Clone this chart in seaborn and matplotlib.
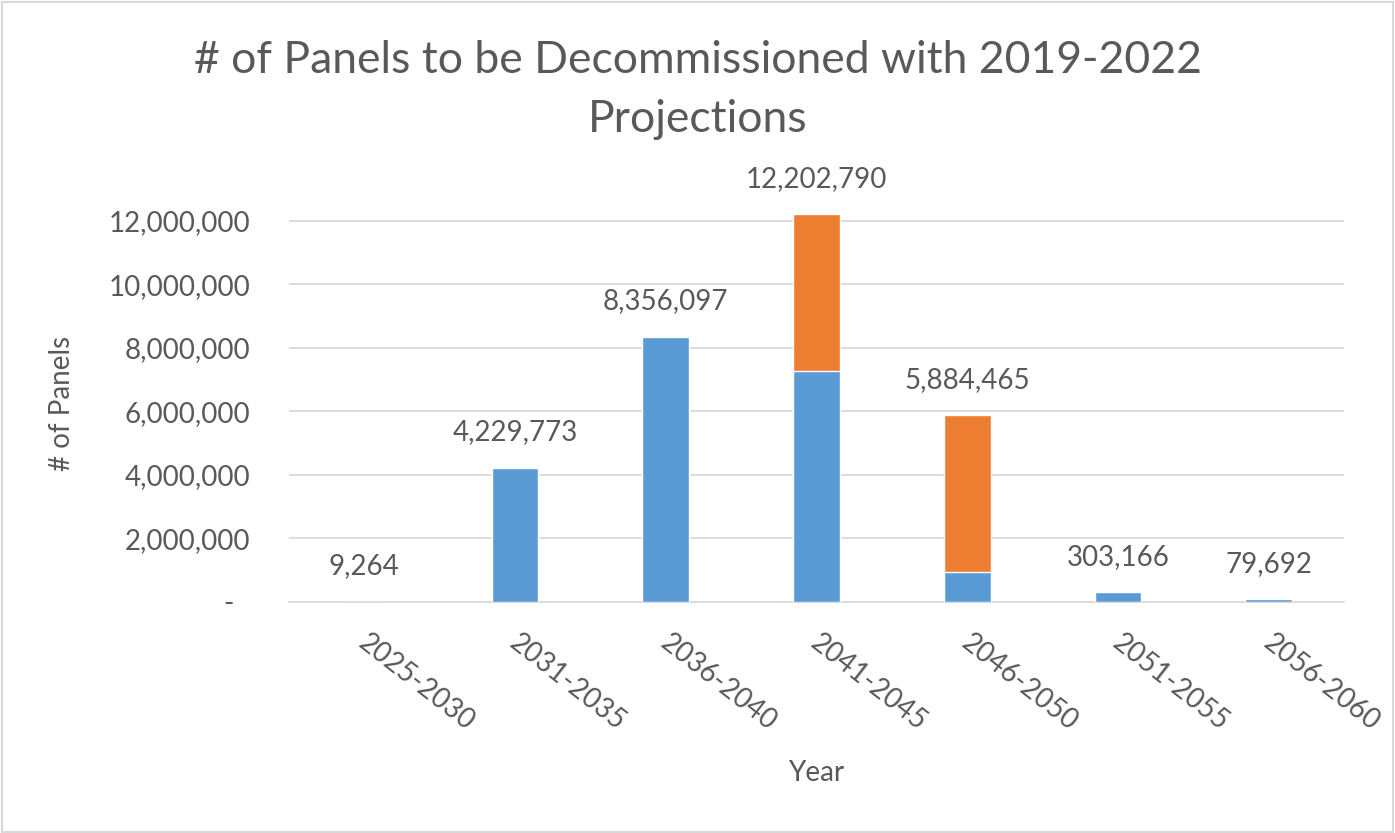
import matplotlib
matplotlib.use("Agg")
import matplotlib.pyplot as plt
import matplotlib.transforms as mtransforms
from matplotlib.patches import Rectangle
import seaborn as sns
import pandas as pd

# Decommissioning periods and panel counts per projection set
periods = ["2025-2030", "2031-2035", "2036-2040", "2041-2045",
           "2046-2050", "2051-2055", "2056-2060"]
base_panels = [9264, 4229773, 8356097, 7270000, 955000, 303166, 79692]
added_panels = [0, 0, 0, 4932790, 4929465, 0, 0]
y_ticks = [0, 2_000_000, 4_000_000, 6_000_000, 8_000_000, 10_000_000, 12_000_000]

title_text = "# of Panels to be Decommissioned with 2019-2022\nProjections"
x_label = "Year"
y_label = "# of Panels"

BLUE = "#5B9BD5"
ORANGE = "#ED7D31"
TEXT = "#595959"
GRID = "#D9D9D9"

sns.set_theme(style="white")
plt.rcParams["font.family"] = ["Lato", "DejaVu Sans"]

df = pd.DataFrame({
    "period": periods,
    "base": base_panels,
    "added": added_panels,
})
df["total"] = df["base"] + df["added"]

W, H = 1395, 833
fig = plt.figure(figsize=(W / 100, H / 100), dpi=100)
left_px, right_px, bottom_px, top_px = 289, 1344, 602, 205
ax = fig.add_axes([left_px / W, 1 - bottom_px / H,
                   (right_px - left_px) / W, (bottom_px - top_px) / H])

# Stacked look: total in orange, base series drawn over it in blue
sns.barplot(data=df, x="period", y="total", color=ORANGE, width=0.31,
            saturation=1, ax=ax, zorder=2)
sns.barplot(data=df, x="period", y="base", color=BLUE, width=0.31,
            saturation=1, ax=ax, zorder=3)

ax.set_ylim(0, 12_500_000)
ax.set_xlim(-0.5, len(periods) - 0.5)
ax.set_yticks(y_ticks)
ax.set_yticklabels([f"{v:,.0f}" if v else "-" for v in y_ticks])
ax.yaxis.grid(True, color=GRID, linewidth=1.3, zorder=0)
ax.set_axisbelow(True)
for side in ["top", "right", "left"]:
    ax.spines[side].set_visible(False)
ax.spines["bottom"].set_color(GRID)
ax.spines["bottom"].set_linewidth(1.3)
ax.tick_params(axis="both", length=0, colors=TEXT, labelsize=20)
ax.tick_params(axis="y", pad=28)

# Accounting-style dash for zero sits left of the digit column
dash_shift = mtransforms.ScaledTranslation(-12 / 72, 0, fig.dpi_scale_trans)
zero_lab = ax.get_yticklabels()[0]
zero_lab.set_transform(zero_lab.get_transform() + dash_shift)

# Rotated period labels
ax.set_xticks(range(len(periods)))
ax.set_xticklabels(periods, rotation=-38, ha="left", rotation_mode="anchor")
shift = mtransforms.ScaledTranslation(4 / 72, -16 / 72, fig.dpi_scale_trans)
for lab in ax.get_xticklabels():
    lab.set_transform(lab.get_transform() + shift)

ax.set_xlabel(x_label, fontsize=20, color=TEXT, labelpad=18)
ax.set_ylabel(y_label, fontsize=20, color=TEXT, labelpad=24)

# Total labels above each bar
for i, tot in enumerate(df["total"]):
    ax.annotate(f"{tot:,.0f}", (i, tot), xytext=(0, 16), textcoords="offset points",
                ha="center", va="bottom", fontsize=20, color=TEXT)

fig.text(698 / W, 1 - 90 / H, title_text, ha="center", va="center",
         fontsize=32, color=TEXT, linespacing=1.55)

# Chart-area border
fig.patches.append(Rectangle((2 / W, 1.5 / H), (W - 4) / W, (H - 3.5) / H,
                             transform=fig.transFigure, fill=False,
                             edgecolor=GRID, linewidth=1.5))

fig.savefig("out.png", dpi=100)
